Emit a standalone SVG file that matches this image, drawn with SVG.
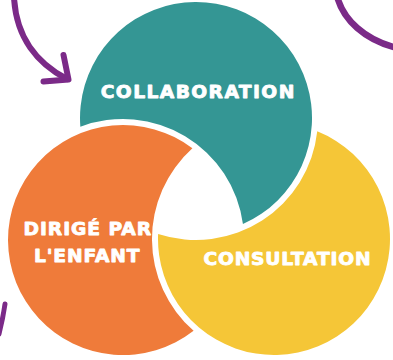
<svg xmlns="http://www.w3.org/2000/svg" width="393" height="360" viewBox="0 0 393 360">
  <style>
    .lbl { fill: #ffffff; stroke: #ffffff; stroke-width: 0.8px; stroke-linejoin: round; font-family: "DejaVu Sans", "Liberation Sans", sans-serif; font-weight: bold; font-size: 17px; text-anchor: middle; }
    .arrow { fill: none; stroke: #7B2A88; stroke-linecap: round; stroke-linejoin: round; }
  </style>
  <rect width="393" height="360" fill="#ffffff"/>
  <g id="connectors">
    <path class="arrow" stroke-width="6" d="M 14 -3 C 16 38, 38 64, 67 79"/>
    <path class="arrow" stroke-width="6" d="M 63.5 55 L 68.5 79.5 L 43.5 81.5"/>
    <path class="arrow" stroke-width="6.5" d="M 337 -4 C 343 20, 365 40, 397 48"/>
    <path class="arrow" stroke-width="5" d="M 5 304 Q 3 318 -1 334"/>
  </g>
  <g id="collaboration">
    <path fill="#349694" d="M 80.34 126.78 A 116 116 0 1 1 242.94 224.08 A 121 121 0 0 0 80.34 126.78 Z"/>
    <text class="lbl" transform="translate(197.5 98) scale(1.1 1)" textLength="176" lengthAdjust="spacing">COLLABORATION</text>
  </g>
  <g id="dirige-par-l-enfant">
    <path fill="#EF7B3A" d="M 192.4 148.3 A 115 115 0 1 0 193.6 330.8 A 122 122 0 0 1 192.4 148.3 Z"/>
    <text class="lbl" transform="translate(87.3 235) scale(1.1 1)" textLength="116" lengthAdjust="spacing">DIRIGÉ PAR</text>
    <text class="lbl" transform="translate(86.7 262) scale(1.1 1)" textLength="96" lengthAdjust="spacing">L'ENFANT</text>
  </g>
  <g id="consultation">
    <path fill="#F5C637" d="M 317.27 131.37 A 116 116 0 1 1 158.11 233.97 A 122 122 0 0 0 317.27 131.37 Z"/>
    <text class="lbl" transform="translate(287 265) scale(1.1 1)" textLength="152" lengthAdjust="spacing">CONSULTATION</text>
  </g>
</svg>
